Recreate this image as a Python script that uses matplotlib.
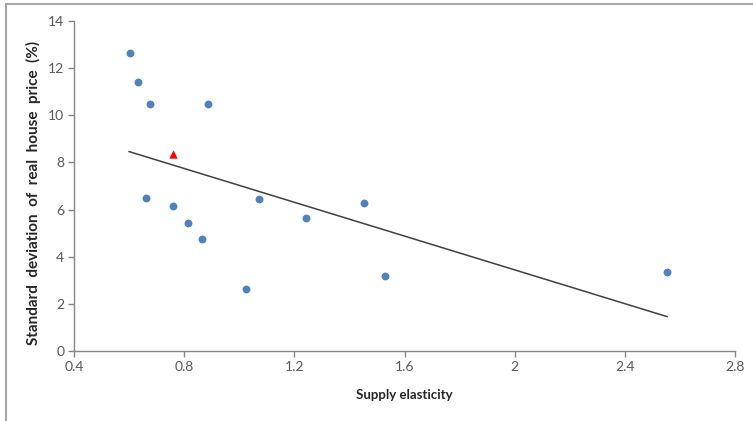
import matplotlib
matplotlib.use("Agg")
import matplotlib.pyplot as plt
from matplotlib.patches import Rectangle

# Data
elasticity = [0.603, 0.634, 0.675, 0.885, 0.661, 0.760, 1.073, 1.453, 1.244, 0.815, 0.865, 1.025, 1.531, 2.553]
std_dev = [12.63, 11.43, 10.49, 10.47, 6.51, 6.17, 6.45, 6.27, 5.64, 5.42, 4.77, 2.64, 3.18, 3.37]
highlight_x = [0.760]
highlight_y = [8.36]
trend_x = [0.60, 2.553]
trend_y = [8.46, 1.46]
xticks = [0.4, 0.8, 1.2, 1.6, 2.0, 2.4, 2.8]
xticklabels = ["0.4", "0.8", "1.2", "1.6", "2", "2.4", "2.8"]
yticks = [0, 2, 4, 6, 8, 10, 12, 14]

plt.rcParams['font.family'] = ['Lato', 'DejaVu Sans']

W, H = 753, 421
fig = plt.figure(figsize=(W / 100, H / 100), dpi=100)
ax = fig.add_axes([74 / W, 1 - 351 / H, (735 - 74) / W, (351 - 21) / H])

ax.scatter(elasticity, std_dev, s=32, color='#4F81BD', zorder=3, linewidths=0)
ax.scatter(highlight_x, highlight_y, s=36, marker='^', color='#FF0000', zorder=3, linewidths=0)
ax.plot(trend_x, trend_y, color='#404040', lw=1.1, zorder=2)

ax.set_xlim(0.4, 2.8)
ax.set_ylim(0, 14)
ax.set_xticks(xticks)
ax.set_xticklabels(xticklabels)
ax.set_yticks(yticks)

for s in ['top', 'right']:
    ax.spines[s].set_visible(False)
for s in ['left', 'bottom']:
    ax.spines[s].set_color('#868686')
    ax.spines[s].set_linewidth(1.0)
ax.tick_params(axis='both', direction='out', length=4, width=1.0, color='#868686',
               labelsize=10, labelcolor='#595959', pad=3)

ax.set_xlabel('Supply elasticity', fontsize=9.5, fontweight='bold', color='#262626')
ax.set_ylabel('Standard  deviation  of  real  house  price  (%)', fontsize=11,
              fontweight='bold', color='#262626')
ax.xaxis.set_label_coords(0.5, -0.114)
ax.yaxis.set_label_coords(-0.050, 0.479)

# Outer chart frame (partially cropped)
fig.patches.append(Rectangle((6 / W, -0.1), 1.2, 1 + 0.1 - 4.5 / H, transform=fig.transFigure,
                             fill=False, edgecolor='#A6A6A6', lw=1.5, clip_on=False))

fig.savefig('out.png', dpi=100, facecolor='white')
